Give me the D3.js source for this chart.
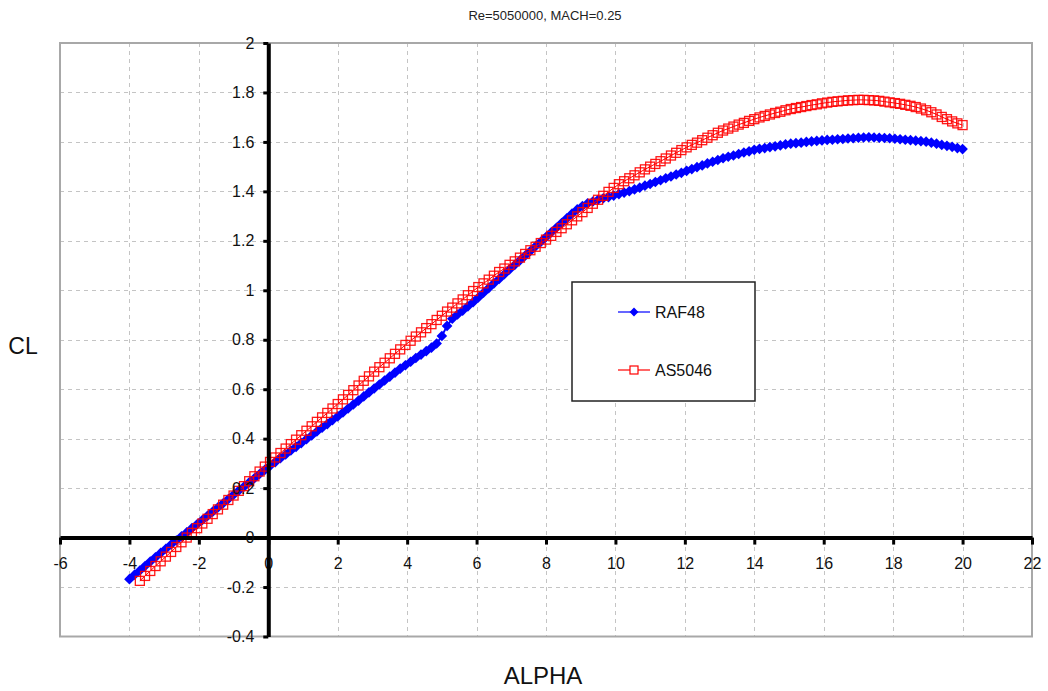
<!DOCTYPE html>
<html>
<head>
<meta charset="utf-8">
<script src="https://cdn.jsdelivr.net/npm/d3@7"></script>
<style>
  body { margin: 0; background: #fff; }
  svg { display: block; }
  text { font-family: "Liberation Sans", Arial, sans-serif; }
</style>
</head>
<body>
<svg id="cl-chart"></svg>
<script>
const chartTitle = 'Re=5050000, MACH=0.25';
const xLabel = 'ALPHA';
const yLabel = 'CL';
const xTicks = [-6, -4, -2, 0, 2, 4, 6, 8, 10, 12, 14, 16, 18, 20, 22];
const yTicks = [-0.4, -0.2, 0, 0.2, 0.4, 0.6, 0.8, 1, 1.2, 1.4, 1.6, 1.8, 2];
const seriesNames = ['RAF48', 'AS5046'];

// [alpha, CL]
const raf48 = [
  [-4.00,-0.168],[-3.85,-0.150],[-3.70,-0.133],[-3.55,-0.115],[-3.40,-0.097],[-3.25,-0.080],
  [-3.10,-0.062],[-2.95,-0.045],[-2.80,-0.028],[-2.65,-0.012],[-2.50,0.005],[-2.35,0.021],
  [-2.20,0.038],[-2.05,0.054],[-1.90,0.071],[-1.75,0.088],[-1.60,0.105],[-1.45,0.122],
  [-1.30,0.139],[-1.15,0.156],[-1.00,0.173],[-0.85,0.190],[-0.70,0.206],[-0.55,0.223],
  [-0.40,0.240],[-0.25,0.257],[-0.10,0.274],[0.05,0.290],[0.20,0.305],[0.35,0.321],
  [0.50,0.336],[0.65,0.352],[0.80,0.367],[0.95,0.382],[1.10,0.398],[1.25,0.413],
  [1.40,0.429],[1.55,0.444],[1.70,0.459],[1.85,0.475],[2.00,0.490],[2.15,0.506],
  [2.30,0.522],[2.45,0.538],[2.60,0.554],[2.75,0.571],[2.90,0.587],[3.05,0.603],
  [3.20,0.619],[3.35,0.635],[3.50,0.651],[3.65,0.667],[3.80,0.683],[3.95,0.697],
  [4.10,0.711],[4.25,0.726],[4.40,0.740],[4.55,0.754],[4.70,0.768],[4.85,0.785],
  [5.00,0.815],[5.15,0.856],[5.30,0.885],[5.45,0.902],[5.60,0.918],[5.75,0.935],
  [5.90,0.952],[6.05,0.971],[6.20,0.990],[6.35,1.009],[6.50,1.028],[6.65,1.046],
  [6.80,1.065],[6.95,1.084],[7.10,1.103],[7.25,1.121],[7.40,1.140],[7.55,1.159],
  [7.70,1.178],[7.85,1.196],[8.00,1.215],[8.15,1.234],[8.30,1.253],[8.45,1.272],
  [8.60,1.291],[8.75,1.310],[8.90,1.327],[9.05,1.341],[9.20,1.352],[9.35,1.359],
  [9.50,1.366],[9.65,1.372],[9.80,1.377],[9.95,1.383],[10.10,1.389],[10.25,1.395],
  [10.40,1.401],[10.55,1.408],[10.70,1.415],[10.85,1.423],[11.00,1.430],[11.15,1.438],
  [11.30,1.445],[11.45,1.453],[11.60,1.460],[11.75,1.468],[11.90,1.475],[12.05,1.483],
  [12.20,1.490],[12.35,1.498],[12.50,1.505],[12.65,1.513],[12.80,1.520],[12.95,1.527],
  [13.10,1.534],[13.25,1.540],[13.40,1.545],[13.55,1.551],[13.70,1.557],[13.85,1.562],
  [14.00,1.568],[14.15,1.572],[14.30,1.575],[14.45,1.579],[14.60,1.582],[14.75,1.586],
  [14.90,1.590],[15.05,1.593],[15.20,1.595],[15.35,1.597],[15.50,1.600],[15.65,1.602],
  [15.80,1.604],[15.95,1.606],[16.10,1.608],[16.25,1.609],[16.40,1.611],[16.55,1.612],
  [16.70,1.614],[16.85,1.615],[17.00,1.617],[17.15,1.618],[17.30,1.619],[17.45,1.618],
  [17.60,1.617],[17.75,1.616],[17.90,1.615],[18.05,1.613],[18.20,1.611],[18.35,1.609],
  [18.50,1.607],[18.65,1.605],[18.80,1.603],[18.95,1.601],[19.10,1.597],[19.25,1.593],
  [19.40,1.588],[19.55,1.584],[19.70,1.580],[19.85,1.575],[20.00,1.571]
];

const as5046 = [
  [-3.70,-0.175],[-3.55,-0.155],[-3.40,-0.135],[-3.25,-0.115],[-3.10,-0.096],[-2.95,-0.077],
  [-2.80,-0.058],[-2.65,-0.038],[-2.50,-0.019],[-2.35,0.000],[-2.20,0.019],[-2.05,0.038],
  [-1.90,0.057],[-1.75,0.076],[-1.60,0.095],[-1.45,0.114],[-1.30,0.133],[-1.15,0.152],
  [-1.00,0.170],[-0.85,0.189],[-0.70,0.208],[-0.55,0.228],[-0.40,0.248],[-0.25,0.267],
  [-0.10,0.287],[0.05,0.306],[0.20,0.324],[0.35,0.342],[0.50,0.360],[0.65,0.378],
  [0.80,0.396],[0.95,0.414],[1.10,0.432],[1.25,0.450],[1.40,0.468],[1.55,0.486],
  [1.70,0.504],[1.85,0.522],[2.00,0.540],[2.15,0.559],[2.30,0.577],[2.45,0.596],
  [2.60,0.615],[2.75,0.634],[2.90,0.652],[3.05,0.671],[3.20,0.689],[3.35,0.707],
  [3.50,0.725],[3.65,0.743],[3.80,0.761],[3.95,0.779],[4.10,0.796],[4.25,0.813],
  [4.40,0.830],[4.55,0.847],[4.70,0.863],[4.85,0.880],[5.00,0.897],[5.15,0.914],
  [5.30,0.930],[5.45,0.947],[5.60,0.963],[5.75,0.980],[5.90,0.997],[6.05,1.013],
  [6.20,1.028],[6.35,1.043],[6.50,1.059],[6.65,1.074],[6.80,1.088],[6.95,1.103],
  [7.10,1.117],[7.25,1.132],[7.40,1.147],[7.55,1.162],[7.70,1.176],[7.85,1.191],
  [8.00,1.205],[8.15,1.220],[8.30,1.236],[8.45,1.251],[8.60,1.267],[8.75,1.283],
  [8.90,1.299],[9.05,1.316],[9.20,1.333],[9.35,1.350],[9.50,1.366],[9.65,1.382],
  [9.80,1.398],[9.95,1.414],[10.10,1.429],[10.25,1.441],[10.40,1.453],[10.55,1.465],
  [10.70,1.477],[10.85,1.489],[11.00,1.500],[11.15,1.511],[11.30,1.522],[11.45,1.533],
  [11.60,1.545],[11.75,1.556],[11.90,1.567],[12.05,1.578],[12.20,1.588],[12.35,1.597],
  [12.50,1.607],[12.65,1.617],[12.80,1.627],[12.95,1.637],[13.10,1.646],[13.25,1.654],
  [13.40,1.662],[13.55,1.670],[13.70,1.677],[13.85,1.685],[14.00,1.692],[14.15,1.699],
  [14.30,1.705],[14.45,1.711],[14.60,1.717],[14.75,1.722],[14.90,1.728],[15.05,1.733],
  [15.20,1.737],[15.35,1.741],[15.50,1.745],[15.65,1.749],[15.80,1.752],[15.95,1.756],
  [16.10,1.759],[16.25,1.762],[16.40,1.764],[16.55,1.766],[16.70,1.768],[16.85,1.769],
  [17.00,1.770],[17.15,1.770],[17.30,1.769],[17.45,1.768],[17.60,1.766],[17.75,1.763],
  [17.90,1.760],[18.05,1.757],[18.20,1.754],[18.35,1.750],[18.50,1.746],[18.65,1.741],
  [18.80,1.735],[18.95,1.728],[19.10,1.720],[19.25,1.711],[19.40,1.701],[19.55,1.692],
  [19.70,1.683],[19.85,1.675],[20.00,1.668]
];

const ClChart = function() {
  const w = 1048;
  const h = 691;
  const left = 60;
  const right = 1032;
  const top = 43;
  const bottom = 636.5;
  let svg;
  let scaleX;
  let scaleY;
  let self;

  const chart = {
    init: (el) => {
      svg = d3.select(el).attr('width', w).attr('height', h);
      scaleX = d3.scaleLinear().domain([-6, 22]).range([left, right]);
      scaleY = d3.scaleLinear().domain([-0.4, 2]).range([bottom, top]);
      self.drawFrame();
      self.drawSeries(raf48, '#0000ff', 'diamond');
      self.drawSeries(as5046, '#ff0000', 'square');
      self.drawAxes();
      self.drawLegend();
      self.drawLabels();
    },
    drawFrame: () => {
      svg.append('rect')
        .attr('x', left).attr('y', top)
        .attr('width', right - left).attr('height', bottom - top)
        .attr('fill', '#fff');
      const grid = svg.append('g').attr('class', 'grid')
        .attr('stroke', '#c4c4c4').attr('stroke-width', 1).attr('stroke-dasharray', '4,4');
      grid.selectAll('.gx')
        .data(xTicks.filter(t => t !== 0 && t !== -6 && t !== 22))
        .enter().append('line')
        .attr('x1', d => Math.round(scaleX(d)) + 0.5).attr('x2', d => Math.round(scaleX(d)) + 0.5)
        .attr('y1', top).attr('y2', bottom);
      grid.selectAll('.gy')
        .data(yTicks.filter(t => t !== 0 && t !== -0.4 && t !== 2))
        .enter().append('line')
        .attr('y1', d => Math.round(scaleY(d)) + 0.5).attr('y2', d => Math.round(scaleY(d)) + 0.5)
        .attr('x1', left).attr('x2', right);
      svg.append('rect')
        .attr('x', left).attr('y', top)
        .attr('width', right - left).attr('height', bottom - top)
        .attr('fill', 'none').attr('stroke', '#a8a8a8').attr('stroke-width', 2);
    },
    drawSeries: (data, color, shape) => {
      const line = d3.line().x(d => scaleX(d[0])).y(d => scaleY(d[1]));
      const g = svg.append('g');
      g.append('path')
        .datum(data)
        .attr('d', line)
        .attr('fill', 'none')
        .attr('stroke', color)
        .attr('stroke-width', shape === 'diamond' ? 2 : 1);
      if (shape === 'diamond') {
        g.selectAll('path.pt')
          .data(data)
          .enter().append('path')
          .attr('class', 'pt')
          .attr('d', d3.symbol().type(d3.symbolDiamond2).size(72))
          .attr('transform', d => `translate(${scaleX(d[0])},${scaleY(d[1])})`)
          .attr('fill', color);
      } else {
        g.selectAll('rect.pt')
          .data(data)
          .enter().append('rect')
          .attr('class', 'pt')
          .attr('x', d => scaleX(d[0]) - 4.5).attr('y', d => scaleY(d[1]) - 4.5)
          .attr('width', 9).attr('height', 9)
          .attr('fill', 'none')
          .attr('stroke', color)
          .attr('stroke-opacity', 0.9)
          .attr('stroke-width', 1.3);
      }
    },
    drawAxes: () => {
      const xAxis = d3.axisBottom(scaleX).tickValues(xTicks).tickSize(7).tickSizeOuter(0)
        .tickFormat(d => d);
      const gx = svg.append('g')
        .attr('transform', `translate(0,${scaleY(0)})`)
        .call(xAxis);
      gx.select('.domain').attr('stroke', '#000').attr('stroke-width', 4);
      gx.selectAll('.tick line').attr('stroke', '#000').attr('stroke-width', 3);
      gx.selectAll('.tick text')
        .attr('y', 26).attr('dy', '0.35em')
        .attr('fill', '#111').attr('font-size', 16)
        .style('font-family', '"Liberation Sans", Arial, sans-serif');

      const yAxis = d3.axisLeft(scaleY).tickValues(yTicks).tickSize(5).tickSizeOuter(0)
        .tickPadding(9).tickFormat(d => d);
      const gy = svg.append('g')
        .attr('transform', `translate(${scaleX(0)},0)`)
        .call(yAxis);
      gy.select('.domain').attr('stroke', '#000').attr('stroke-width', 4);
      gy.selectAll('.tick line').attr('stroke', '#000').attr('stroke-width', 3);
      gy.selectAll('.tick text')
        .attr('fill', '#111').attr('font-size', 16)
        .style('font-family', '"Liberation Sans", Arial, sans-serif');
    },
    drawLegend: () => {
      const lg = svg.append('g').attr('class', 'legend');
      lg.append('rect')
        .attr('x', 572).attr('y', 282).attr('width', 183).attr('height', 119)
        .attr('fill', '#fff').attr('stroke', '#222').attr('stroke-width', 1.5);
      const rows = [
        {name: seriesNames[0], color: '#0000ff', shape: 'diamond', y: 312},
        {name: seriesNames[1], color: '#ff0000', shape: 'square', y: 370}
      ];
      rows.forEach(r => {
        lg.append('line')
          .attr('x1', 618).attr('x2', 650).attr('y1', r.y).attr('y2', r.y)
          .attr('stroke', r.color).attr('stroke-width', 1.2);
        if (r.shape === 'diamond') {
          lg.append('path')
            .attr('d', d3.symbol().type(d3.symbolDiamond2).size(50))
            .attr('transform', `translate(634,${r.y})`)
            .attr('fill', r.color);
        } else {
          lg.append('rect')
            .attr('x', 630).attr('y', r.y - 4).attr('width', 8).attr('height', 8)
            .attr('fill', '#fff').attr('stroke', r.color).attr('stroke-width', 1.2);
        }
        lg.append('text')
          .attr('x', 655).attr('y', r.y).attr('dy', '0.36em')
          .attr('font-size', 16).attr('fill', '#111')
          .text(r.name);
      });
    },
    drawLabels: () => {
      svg.append('text')
        .attr('x', 545).attr('y', 20)
        .attr('text-anchor', 'middle')
        .attr('font-size', 13).attr('fill', '#222')
        .text(chartTitle);
      svg.append('text')
        .attr('x', 543).attr('y', 684)
        .attr('text-anchor', 'middle')
        .attr('font-size', 24).attr('fill', '#111')
        .text(xLabel);
      svg.append('text')
        .attr('x', 23).attr('y', 354)
        .attr('text-anchor', 'middle')
        .attr('font-size', 23).attr('fill', '#111')
        .text(yLabel);
    }
  };

  self = chart;
  return self;
}();

ClChart.init('#cl-chart');
</script>
</body>
</html>
